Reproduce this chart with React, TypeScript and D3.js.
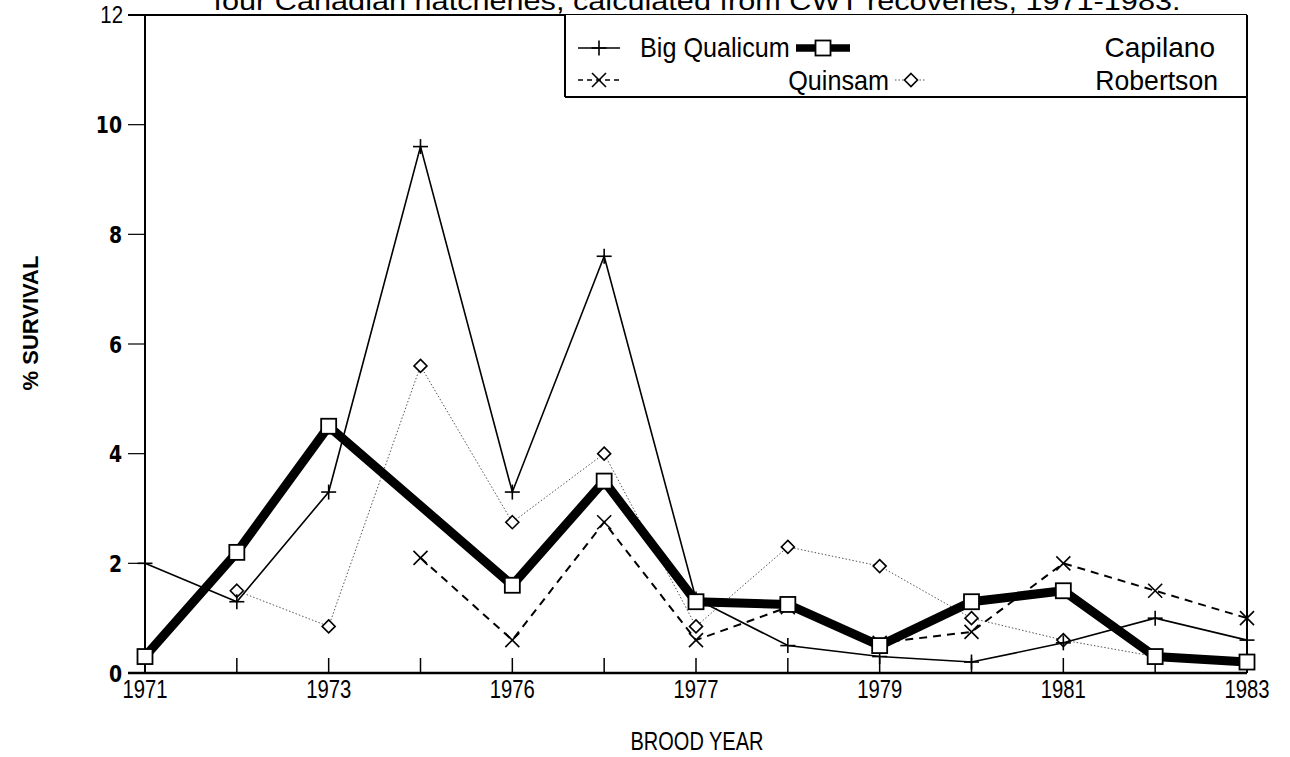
import React from 'react';
import * as d3 from 'd3';

const tickLabels = ['1971', '', '1973', '', '1976', '', '1977', '', '1979', '', '1981', '', '1983'];
const positions = [0, 1, 2, 3, 4, 5, 6, 7, 8, 9, 10, 11, 12];

const bigQualicum = [2.0, 1.3, 3.3, 9.6, 3.3, 7.6, 1.35, 0.5, 0.3, 0.2, 0.55, 1.0, 0.6];
const capilano = [0.3, 2.2, 4.5, null, 1.6, 3.5, 1.3, 1.25, 0.5, 1.3, 1.5, 0.3, 0.2];
const quinsam = [null, null, null, 2.1, 0.6, 2.75, 0.6, 1.2, 0.55, 0.75, 2.0, 1.5, 1.0];
const robertson = [null, 1.5, 0.85, 5.6, 2.75, 4.0, 0.85, 2.3, 1.95, 1.0, 0.6, 0.3, 0.2];

const yTicks = [0, 2, 4, 6, 8, 10, 12];

const sans = '"Liberation Sans", Arial, sans-serif';

type Pt = { i: number; v: number };

// text squeezed sideways, the scanned fonts are narrower than Arial
const Txt = ({ x, y, size, anchor, sx, weight, family, children }: any) => (
  <text
    transform={`translate(${x},${y}) scale(${sx ?? 1},1)`}
    textAnchor={anchor || 'start'}
    fontFamily={family || sans}
    fontWeight={weight || 400}
    fontSize={size}
  >
    {children}
  </text>
);

const Marker = ({ kind, x, y }: { kind: string; x: number; y: number }) => {
  if (kind === 'plus') {
    return (
      <g stroke="#000" strokeWidth={1.6}>
        <line x1={x - 7.5} x2={x + 7.5} y1={y} y2={y} />
        <line x1={x} x2={x} y1={y - 7.5} y2={y + 7.5} />
      </g>
    );
  }
  if (kind === 'square') {
    return <rect x={x - 7.5} y={y - 7.5} width={15} height={15} fill="#fff" stroke="#000" strokeWidth={1.8} />;
  }
  if (kind === 'cross') {
    return (
      <g stroke="#000" strokeWidth={1.6}>
        <line x1={x - 7} x2={x + 7} y1={y - 7} y2={y + 7} />
        <line x1={x - 7} x2={x + 7} y1={y + 7} y2={y - 7} />
      </g>
    );
  }
  return (
    <path d={`M${x},${y - 6.5}L${x + 6.5},${y}L${x},${y + 6.5}L${x - 6.5},${y}Z`} fill="#fff" stroke="#000" strokeWidth={1.6} />
  );
};

const App = () => {
  const width = 1290;
  const height = 757;
  const left = 145;
  const right = 1247;
  const top = 15;
  const bottom = 673;

  const x = d3.scaleLinear().domain([0, 12]).range([left, right]);
  const y = d3.scaleLinear().domain([0, 12]).range([bottom, top]);

  const toPts = (arr: (number | null)[]): Pt[] =>
    arr.map((v, i) => ({ i, v: v as number })).filter((d) => d.v !== null && d.v !== undefined);

  const line = d3.line<Pt>().x((d) => x(d.i)).y((d) => y(d.v));

  const series = [
    { data: toPts(robertson), kind: 'diamond', stroke: '#555', width: 1, dash: '1.5,2' },
    { data: toPts(quinsam), kind: 'cross', stroke: '#000', width: 2, dash: '8,6' },
    { data: toPts(bigQualicum), kind: 'plus', stroke: '#000', width: 1.6, dash: null },
    { data: toPts(capilano), kind: 'square', stroke: '#000', width: 9, dash: null },
  ];

  return (
    <div style={{ position: 'absolute', left: 0, top: 0 }}>
      <svg width={width} height={height} style={{ display: 'block', background: '#fff' }}>
        <text x={697} y={10} textAnchor="middle" fontFamily={sans} fontSize={25} textLength={967} lengthAdjust="spacingAndGlyphs">
          four  Canadian  hatcheries,  calculated  from  CWT  recoveries,  1971-1983.
        </text>

        {/* frame */}
        <line x1={128} x2={right} y1={top} y2={top} stroke="#000" strokeWidth={2} />
        <line x1={left} x2={left} y1={top} y2={bottom} stroke="#000" strokeWidth={2} />
        <line x1={right} x2={right} y1={top} y2={bottom} stroke="#000" strokeWidth={2} />
        <line x1={128} x2={right} y1={bottom} y2={bottom} stroke="#000" strokeWidth={2.5} />

        {/* y axis */}
        {yTicks.map((t) => (
          <g key={t}>
            <line x1={128} x2={left} y1={y(t)} y2={y(t)} stroke="#000" strokeWidth={1.2} />
            {t === 12 ? (
              <Txt x={123} y={y(t) + 8} size={24} anchor="end" sx={0.85}>{t}</Txt>
            ) : (
              <Txt x={122} y={y(t) + 8.5} size={23} anchor="end" sx={0.82} weight={700} family='"DejaVu Sans", sans-serif'>
                {t}
              </Txt>
            )}
          </g>
        ))}
        <text
          transform={`translate(38,${323}) rotate(-90)`}
          textAnchor="middle"
          fontFamily={sans}
          fontWeight={700}
          fontSize={22}
        >
          % SURVIVAL
        </text>

        {/* x axis */}
        {positions.map((p) => (
          <g key={p}>
            <line x1={x(p)} x2={x(p)} y1={bottom} y2={bottom - 15} stroke="#000" strokeWidth={1.5} />
            {tickLabels[p] && (
              <Txt x={x(p)} y={698} size={26} anchor="middle" sx={0.78}>
                {tickLabels[p]}
              </Txt>
            )}
          </g>
        ))}
        <Txt x={697} y={750} size={25} anchor="middle" sx={0.8}>
          BROOD YEAR
        </Txt>

        {/* series */}
        {series.map((s, k) => (
          <g key={k}>
            <path
              d={line(s.data) || ''}
              fill="none"
              stroke={s.stroke}
              strokeWidth={s.width}
              strokeDasharray={s.dash || undefined}
              strokeLinejoin="miter"
            />
            {s.data.map((d) => (
              <Marker key={d.i} kind={s.kind} x={x(d.i)} y={y(d.v)} />
            ))}
          </g>
        ))}

        {/* legend */}
        <rect x={565} y={top} width={right - 565} height={82} fill="#fff" stroke="none" />
        <line x1={565} x2={565} y1={top} y2={97} stroke="#000" strokeWidth={2} />
        <line x1={565} x2={right} y1={97} y2={97} stroke="#000" strokeWidth={2} />
        <line x1={right} x2={right} y1={top} y2={97} stroke="#000" strokeWidth={2} />

        <line x1={578} x2={620} y1={48} y2={48} stroke="#000" strokeWidth={1.6} />
        <Marker kind="plus" x={599} y={48} />
        <Txt x={640} y={57} size={28} sx={0.9}>Big Qualicum</Txt>

        <line x1={796} x2={850} y1={48} y2={48} stroke="#000" strokeWidth={7.5} />
        <Marker kind="square" x={823} y={48} />
        <Txt x={1215} y={57} size={28} anchor="end" sx={1.0}>Capilano</Txt>

        <line x1={578} x2={620} y1={80} y2={80} stroke="#000" strokeWidth={1.6} strokeDasharray="5,4" />
        <Marker kind="cross" x={599} y={80} />
        <Txt x={889} y={90} size={28} anchor="end" sx={0.9}>Quinsam</Txt>

        <line x1={895} x2={925} y1={80} y2={80} stroke="#555" strokeWidth={1} strokeDasharray="1.5,2" />
        <Marker kind="diamond" x={911} y={80} />
        <Txt x={1218} y={90} size={28} anchor="end" sx={0.95}>Robertson</Txt>
      </svg>
    </div>
  );
};

export default App;
